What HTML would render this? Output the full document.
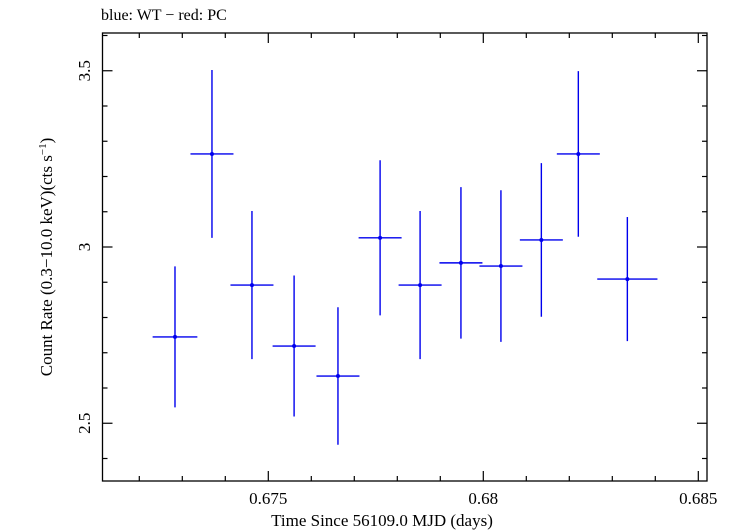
<!DOCTYPE html>
<html><head><meta charset="utf-8"><style>
html,body{margin:0;padding:0;background:#fff;}
svg{display:block;font-family:"Liberation Serif",serif;}
</style></head><body>
<svg id="chart" width="736" height="532" viewBox="0 0 736 532">
<text x="101" y="20" font-size="16">blue: WT − red: PC</text>
<rect x="102.5" y="33" width="604.5" height="448" fill="none" stroke="#000" stroke-width="1.3"/>
<g id="ticks"></g>
<g id="marks"></g>
<text x="382" y="526" font-size="17" text-anchor="middle">Time Since 56109.0 MJD (days)</text>
<text transform="translate(52,257) rotate(-90)" font-size="17" text-anchor="middle">Count Rate (0.3−10.0 keV)(cts s<tspan font-size="11" dy="-6">−1</tspan><tspan dy="6">)</tspan></text>
</svg>
<script>
const times=[0.67283,0.67369,0.67462,0.67560,0.67662,0.67760,0.67853,0.67948,0.68041,0.68135,0.68221,0.68335];
const timeErrs=[0.00052,0.0005,0.0005,0.0005,0.0005,0.0005,0.0005,0.0005,0.0005,0.0005,0.0005,0.0007];
const rates=[2.745,3.264,2.892,2.719,2.634,3.026,2.892,2.955,2.946,3.02,3.264,2.909];
const rateErrs=[0.2,0.238,0.21,0.2,0.195,0.22,0.21,0.215,0.215,0.218,0.235,0.176];
const xTickLabels=["0.675","0.68","0.685"];
const yTickLabels=["2.5","3","3.5"];
const L=102.5,R=707,T=33,B=481;
function xs(t){return 268.3+(t-0.675)*43000;}
function ys(v){return 247-(v-3)*352.5;}
const NS="http://www.w3.org/2000/svg";
const tk=document.getElementById('ticks'),mk=document.getElementById('marks');
function line(g,x1,y1,x2,y2,c,w,name){const l=document.createElementNS(NS,'line');
l.setAttribute('x1',x1);l.setAttribute('y1',y1);l.setAttribute('x2',x2);l.setAttribute('y2',y2);
l.setAttribute('stroke',c);l.setAttribute('stroke-width',w);


g.appendChild(l);return l;}
function text(x,y,s,anchor,rot,name){const t=document.createElementNS(NS,'text');
t.setAttribute('x',x);t.setAttribute('y',y);t.setAttribute('font-size','17');t.setAttribute('text-anchor',anchor);
if(rot)t.setAttribute('transform','rotate(-90 '+x+' '+y+')');
t.textContent=s;


tk.appendChild(t);}
for(let i=0;i<=20;i++){const t=0.6712+i*0.001;const v=Math.round(t*1000)/1000;const x=xs(v);if(x<L+1||x>R-1)continue;
const major=Math.abs(v*200-Math.round(v*200))<1e-6;const len=major?10:5;
line(tk,x,B,x,B-len,'#000',1.2,'x-tick');line(tk,x,T,x,T+len,'#000',1.2,'x-tick-top');}
xTickLabels.forEach(s=>text(xs(parseFloat(s)),504,s,'middle',false,'x-tick-label'));
for(let i=0;i<=12;i++){const v=Math.round((2.4+i*0.1)*10)/10;const y=ys(v);if(y<T+1||y>B-1)continue;
const major=Math.abs(v*2-Math.round(v*2))<1e-6;const len=major?10:5;
line(tk,L,y,L+len,y,'#000',1.2,'y-tick');line(tk,R,y,R-len,y,'#000',1.2,'y-tick-right');}
yTickLabels.forEach(s=>text(90,ys(parseFloat(s)),s,'middle',true,'y-tick-label'));
times.forEach((t,i)=>{const x=xs(t),y=ys(rates[i]);
line(mk,xs(t-timeErrs[i]),y,xs(t+timeErrs[i]),y,'#0000ee',1.4,'x-error-bar');
line(mk,x,ys(rates[i]+rateErrs[i]),x,ys(rates[i]-rateErrs[i]),'#0000ee',1.4,'y-error-bar');
const c=document.createElementNS(NS,'circle');c.setAttribute('cx',x);c.setAttribute('cy',y);c.setAttribute('r',2);c.setAttribute('fill','#0000ee');


mk.appendChild(c);});
</script>
</body></html>
